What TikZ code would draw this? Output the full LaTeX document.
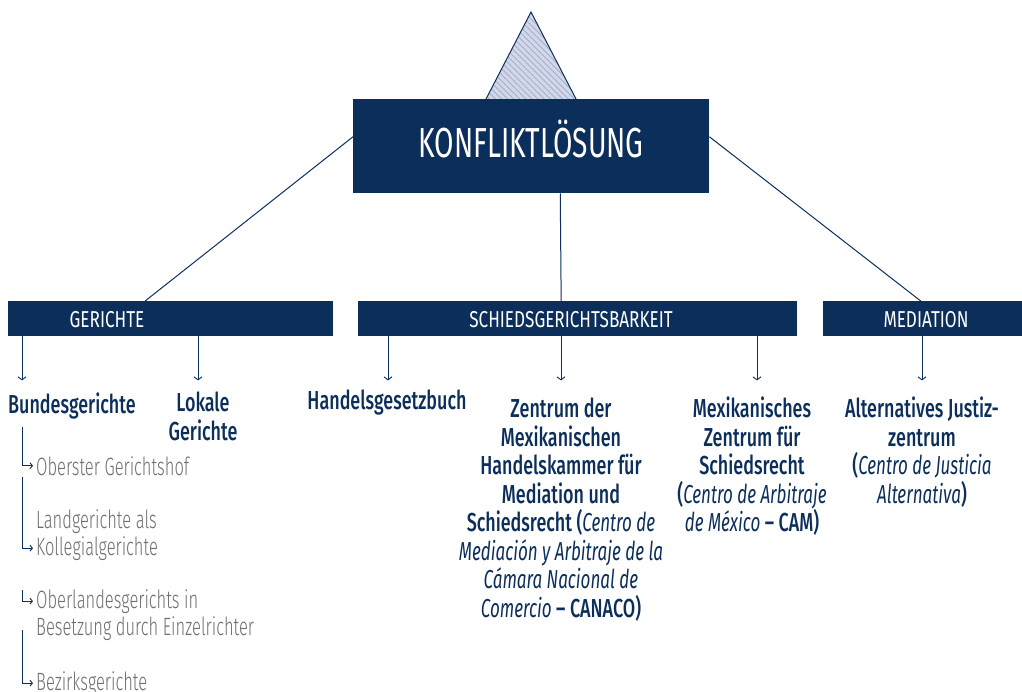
\documentclass[tikz,border=0pt]{standalone}
\usepackage{fontspec}
\usetikzlibrary{calc,patterns.meta,arrows.meta}
\setmainfont{Fira Sans Medium}[FakeStretch=0.69, ItalicFont={Fira Sans Italic}, ItalicFeatures={FakeStretch=0.655}]
\newfontfamily\lightfont{Fira Sans Light}[FakeStretch=0.66]
\newfontfamily\headfont{Fira Sans}[FakeStretch=0.67]
\newfontfamily\barfont{Fira Sans}[FakeStretch=0.745]
\definecolor{navy}{HTML}{0B2E5B}
\definecolor{gtext}{HTML}{6E6E6E}
\definecolor{trifill}{HTML}{D3D8E8}
\definecolor{tristripe}{HTML}{A3ADD0}
\begin{document}
\begin{tikzpicture}[x=1pt,y=-1pt,
  bar/.style={fill=navy, draw=none, minimum height=35pt, inner sep=0pt, anchor=north west},
  barlabel/.style={text=white, font=\barfont\fontsize{23}{26}\selectfont, inner sep=0pt, anchor=base},
  item/.style={text=navy, font=\fontsize{26}{28.5}\selectfont, align=center, inner sep=0pt, anchor=north},
  gray/.style={text=gtext, font=\lightfont\fontsize{25}{27}\selectfont, inner sep=0pt, anchor=base west},
  conn/.style={draw=navy, line width=1pt},
  arr/.style={draw=navy, line width=0.9pt, -{Straight Barb[length=3pt,width=8pt]}},
  garr/.style={draw=navy, line width=0.9pt, -{Straight Barb[length=2.5pt,width=6pt]}, shorten >=3pt}
]
\useasboundingbox (0,0) rectangle (1022,692);

% triangle behind the title box
\coordinate (apex) at (531,12);
\coordinate (tl) at (470,130);
\coordinate (tr) at (592,130);
\fill[trifill] (apex) -- (tl) -- (tr) -- cycle;
\fill[pattern={Lines[angle=-45,distance=4.3pt,line width=0.9pt]}, pattern color=tristripe] (apex) -- (tl) -- (tr) -- cycle;
\draw[navy, line width=1pt] (tl) -- (apex) -- (tr);

% bars
\node[bar, minimum width=325pt] (ger) at (8,301) {};
\node[bar, minimum width=439pt] (sch) at (358,301) {};
\node[bar, minimum width=199pt] (med) at (823,301) {};

% main box
\node[fill=navy, minimum width=356pt, minimum height=94pt, inner sep=0pt, anchor=north west] (main) at (353,99) {};
\node[text=white, font=\headfont\fontsize{42}{44}\selectfont, inner sep=0pt, anchor=base] (title) at (531,158) {KONFLIKTLÖSUNG};

% connectors from main box to bars
\draw[conn] ($(main.north west)!0.4!(main.south west)$) -- ($(ger.north west)!0.4215!(ger.north east)$);
\draw[conn] ($(main.south west)!0.5815!(main.south east)$) -- ($(sch.north west)!0.4624!(sch.north east)$);
\draw[conn] ($(main.north east)!0.4!(main.south east)$) -- ($(med.north west)!0.49!(med.north east)$);

% bar labels
\node[barlabel] (gerl) at (107,327) {GERICHTE};
\node[barlabel] (schl) at (571,327) {SCHIEDSGERICHTSBARKEIT};
\node[barlabel] (medl) at (926,327) {MEDIATION};

% items
\node[text=navy, font=\fontsize{26}{28.5}\selectfont, inner sep=0pt, anchor=base west] (bund) at (8,413) {Bundesgerichte};
\node[item] (lok) at (203,392) {Lokale\\Gerichte};
\node[item] (hgb) at (387,390) {Handelsgesetzbuch};
\node[item] (zen) at (561,398) {Zentrum der\\Mexikanischen\\Handelskammer für\\Mediation und\\Schiedsrecht (\textit{Centro de}\\\textit{Mediación y Arbitraje de la}\\\textit{Cámara Nacional de}\\\textit{Comercio} – CANACO)};
\node[item] (mex) at (752,397) {Mexikanisches\\Zentrum für\\Schiedsrecht\\(\textit{Centro de Arbitraje}\\\textit{de México} – CAM)};
\node[item] (alt) at (922,397) {Alternatives Justiz-\\zentrum\\(\textit{Centro de Justicia}\\\textit{Alternativa})};

% arrows from bars to items
\draw[arr] (ger.south west) ++(14,0) -- ++(0,44);
\draw[arr] (ger.south west) ++(190,0) -- ++(0,44);
\draw[arr] (sch.south west) ++(30,0) -- ++(0,44);
\draw[arr] (sch.south west) ++(203,0) -- ++(0,44);
\draw[arr] (sch.south west) ++(399,0) -- ++(0,44);
\draw[arr] (med.south west) ++(99,0) -- ++(0,44);

% federal court list
\node[gray] (ober) at (36,475) {Oberster Gerichtshof};
\node[gray] (land1) at (36,528) {Landgerichte als};
\node[gray] (land2) at (36,555) {Kollegialgerichte};
\node[gray] (olg1) at (36,608) {Oberlandesgerichts in};
\node[gray] (olg2) at (36,635) {Besetzung durch Einzelrichter};
\node[gray] (bez) at (36,690) {Bezirksgerichte};

\coordinate (s1) at (22,427);
\coordinate (s2) at (22,477);
\coordinate (s3) at (22,590);
\coordinate (s4) at (22,630);
\draw[garr] (s1) |- (ober.west);
\draw[garr] (s2) |- (land2.west);
\draw[garr] (s3) |- (olg1.west);
\draw[garr] (s4) |- (bez.west);
\end{tikzpicture}
\end{document}
